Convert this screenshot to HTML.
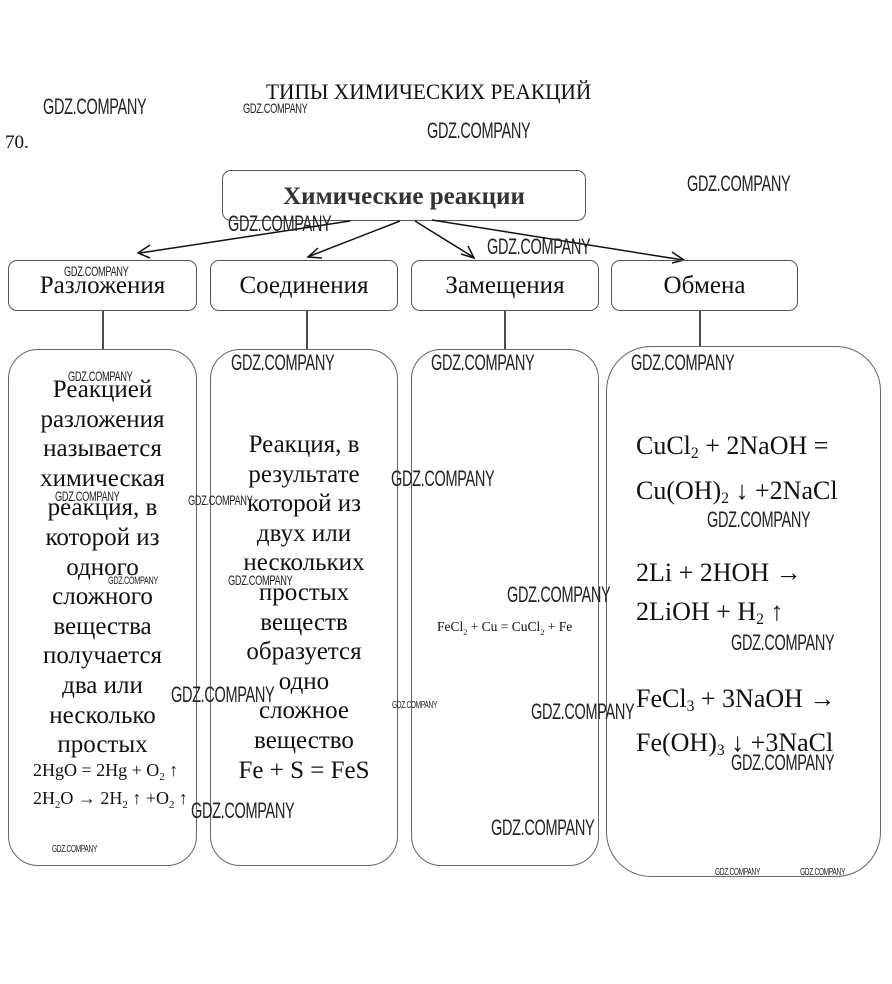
<!DOCTYPE html>
<html><head><meta charset="utf-8"><style>
body{margin:0;background:#fff;}
#p{position:relative;width:892px;height:984px;overflow:hidden;background:#fff;font-family:"Liberation Serif","DejaVu Serif",serif;color:#111;}
.a{position:absolute;white-space:nowrap;}
.box{position:absolute;border:1.3px solid #555;border-radius:9px;box-sizing:border-box;}
.big{position:absolute;border:1.3px solid #666;border-radius:30px;box-sizing:border-box;}
.lab{position:absolute;font-size:25px;text-align:center;line-height:1;}
.col{position:absolute;text-align:center;font-size:25px;line-height:29.6px;}
.w{position:absolute;white-space:nowrap;font-family:"Liberation Sans",sans-serif;color:#222;transform:scaleX(0.66);transform-origin:0 0;letter-spacing:-0.5px;}
.eq{position:absolute;white-space:nowrap;font-size:26px;}
sub{font-size:60%;vertical-align:-4px;}
</style></head><body><div id="p">

<div class="a" style="left:266px;top:79px;font-size:22px;transform:scaleX(0.97);transform-origin:0 0;">ТИПЫ ХИМИЧЕСКИХ РЕАКЦИЙ</div>
<div class="a" style="left:5px;top:132px;font-size:19px;">70.</div>

<div class="box" style="left:222px;top:170px;width:364px;height:51px;"></div>
<div class="lab" style="left:222px;top:184px;width:364px;font-weight:bold;font-size:25px;color:#333;">Химические реакции</div>

<svg class="a" style="left:0;top:0" width="892" height="984">
<g stroke="#111" stroke-width="1.5" fill="none">
<line x1="350" y1="221" x2="140" y2="253"/><polyline points="150,245 138,253 150,258"/>
<line x1="400" y1="221" x2="310" y2="256"/><polyline points="318,248 308,257 322,258"/>
<line x1="415" y1="221" x2="473" y2="257"/><polyline points="461,254 474,258 468,246"/>
<line x1="432" y1="220" x2="683" y2="260"/><polyline points="672,252 684,260 672,263"/>
<line x1="103" y1="311" x2="103" y2="349"/>
<line x1="307" y1="311" x2="307" y2="349"/>
<line x1="505" y1="311" x2="505" y2="349"/>
<line x1="700" y1="311" x2="700" y2="346"/>
</g></svg>

<div class="box" style="left:8px;top:260px;width:189px;height:51px;"></div>
<div class="box" style="left:210px;top:260px;width:188px;height:51px;"></div>
<div class="box" style="left:411px;top:260px;width:188px;height:51px;"></div>
<div class="box" style="left:611px;top:260px;width:187px;height:51px;"></div>
<div class="lab" style="left:8px;top:273px;width:189px;">Разложения</div>
<div class="lab" style="left:210px;top:273px;width:188px;">Соединения</div>
<div class="lab" style="left:411px;top:273px;width:188px;">Замещения</div>
<div class="lab" style="left:611px;top:273px;width:187px;">Обмена</div>

<div class="big" style="left:8px;top:349px;width:189px;height:517px;"></div>
<div class="big" style="left:210px;top:349px;width:188px;height:517px;"></div>
<div class="big" style="left:411px;top:349px;width:188px;height:517px;"></div>
<div class="big" style="left:606px;top:346px;width:275px;height:531px;border-radius:45px;"></div>

<div class="col" style="left:8px;top:375px;width:189px;">Реакцией<br>разложения<br>называется<br>химическая<br>реакция, в<br>которой из<br>одного<br>сложного<br>вещества<br>получается<br>два или<br>несколько<br>простых</div>
<div class="a" style="left:33px;top:760px;font-size:18px;">2HgO = 2Hg + O<sub>2</sub> ↑</div>
<div class="a" style="left:33px;top:788px;font-size:18px;">2H<sub>2</sub>O → 2H<sub>2</sub> ↑ +O<sub>2</sub> ↑</div>

<div class="col" style="left:210px;top:430px;width:188px;">Реакция, в<br>результате<br>которой из<br>двух или<br>нескольких<br>простых<br>веществ<br>образуется<br>одно<br>сложное<br>вещество<br>Fe + S = FeS</div>

<div class="a" style="left:437px;top:619px;font-size:13.5px;">FeCl<sub>2</sub> + Cu = CuCl<sub>2</sub> + Fe</div>

<div class="eq" style="left:636px;top:431px;">CuCl<sub>2</sub> + 2NaOH =</div>
<div class="eq" style="left:636px;top:476px;">Cu(OH)<sub>2</sub> ↓ +2NaCl</div>
<div class="eq" style="left:636px;top:558px;">2Li + 2HOH →</div>
<div class="eq" style="left:636px;top:597px;">2LiOH + H<sub>2</sub> ↑</div>
<div class="eq" style="left:636px;top:684px;">FeCl<sub>3</sub> + 3NaOH →</div>
<div class="eq" style="left:636px;top:728px;">Fe(OH)<sub>3</sub> ↓ +3NaCl</div>

<div class="w" style="left:43px;top:94px;font-size:22px;">GDZ.COMPANY</div>
<div class="w" style="left:243px;top:100px;font-size:14px;">GDZ.COMPANY</div>
<div class="w" style="left:427px;top:118px;font-size:22px;">GDZ.COMPANY</div>
<div class="w" style="left:687px;top:171px;font-size:22px;">GDZ.COMPANY</div>
<div class="w" style="left:228px;top:211px;font-size:22px;">GDZ.COMPANY</div>
<div class="w" style="left:487px;top:234px;font-size:22px;">GDZ.COMPANY</div>
<div class="w" style="left:64px;top:263px;font-size:14px;">GDZ.COMPANY</div>
<div class="w" style="left:231px;top:350px;font-size:22px;">GDZ.COMPANY</div>
<div class="w" style="left:431px;top:350px;font-size:22px;">GDZ.COMPANY</div>
<div class="w" style="left:631px;top:350px;font-size:22px;">GDZ.COMPANY</div>
<div class="w" style="left:68px;top:368px;font-size:14px;">GDZ.COMPANY</div>
<div class="w" style="left:391px;top:466px;font-size:22px;">GDZ.COMPANY</div>
<div class="w" style="left:55px;top:488px;font-size:14px;">GDZ.COMPANY</div>
<div class="w" style="left:188px;top:492px;font-size:14px;">GDZ.COMPANY</div>
<div class="w" style="left:707px;top:507px;font-size:22px;">GDZ.COMPANY</div>
<div class="w" style="left:108px;top:575px;font-size:11px;">GDZ.COMPANY</div>
<div class="w" style="left:228px;top:572px;font-size:14px;">GDZ.COMPANY</div>
<div class="w" style="left:507px;top:582px;font-size:22px;">GDZ.COMPANY</div>
<div class="w" style="left:731px;top:630px;font-size:22px;">GDZ.COMPANY</div>
<div class="w" style="left:171px;top:682px;font-size:22px;">GDZ.COMPANY</div>
<div class="w" style="left:392px;top:700px;font-size:10px;">GDZ.COMPANY</div>
<div class="w" style="left:531px;top:699px;font-size:22px;">GDZ.COMPANY</div>
<div class="w" style="left:731px;top:750px;font-size:22px;">GDZ.COMPANY</div>
<div class="w" style="left:191px;top:798px;font-size:22px;">GDZ.COMPANY</div>
<div class="w" style="left:491px;top:815px;font-size:22px;">GDZ.COMPANY</div>
<div class="w" style="left:52px;top:844px;font-size:10px;">GDZ.COMPANY</div>
<div class="w" style="left:715px;top:867px;font-size:10px;">GDZ.COMPANY</div>
<div class="w" style="left:800px;top:867px;font-size:10px;">GDZ.COMPANY</div>

</div></body></html>
